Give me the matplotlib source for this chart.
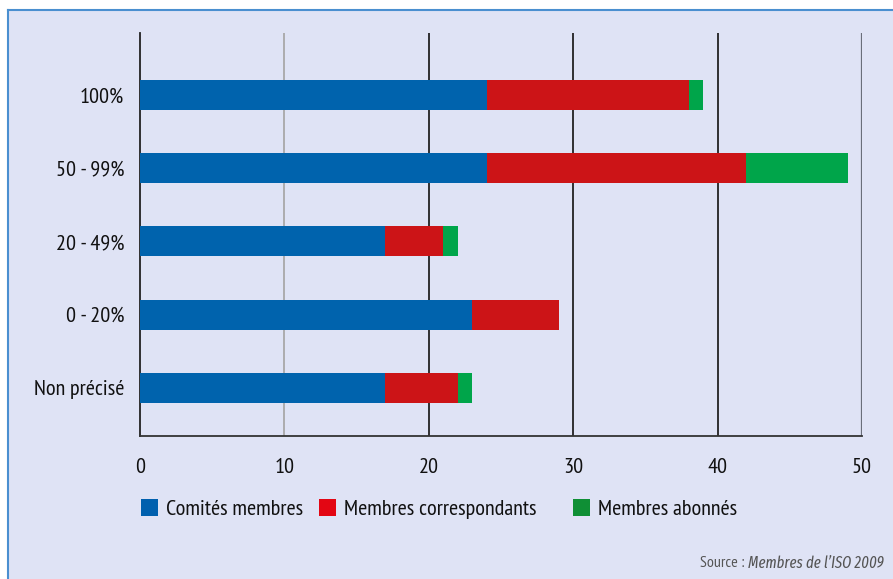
import matplotlib
matplotlib.use("Agg")
import matplotlib.pyplot as plt
from matplotlib.patches import Patch, Rectangle
from matplotlib.lines import Line2D

FONT = ['PT Sans Narrow', 'DejaVu Sans']
plt.rcParams['font.family'] = FONT

categories = ["100%", "50 - 99%", "20 - 49%", "0 - 20%", "Non précisé"]
comites = [24, 24, 17, 23, 17]
correspondants = [14, 18, 4, 6, 5]
abonnes = [1, 7, 1, 0, 1]
series_names = ["Comités membres", "Membres correspondants", "Membres abonnés"]
xticks = [0, 10, 20, 30, 40, 50]

W, H = 893, 579
fig = plt.figure(figsize=(W / 100, H / 100), dpi=100)
fig.patch.set_facecolor("white")

bg = "#dfe3f5"
fig.patches.append(Rectangle((8 / W, 0), 1 - 8 / W, 1 - 10 / H, transform=fig.transFigure,
                             facecolor=bg, edgecolor="none", zorder=-5))
fig.lines.append(Line2D([8 / W, 8 / W], [0, 1 - 10 / H], transform=fig.transFigure,
                        color="#4a8fd0", lw=1.5, zorder=-4))
fig.lines.append(Line2D([8 / W, 1], [1 - 10 / H, 1 - 10 / H], transform=fig.transFigure,
                        color="#4a8fd0", lw=1.5, zorder=-4))

left, right = 140 / W, 862 / W
top, bottom = 1 - 33 / H, 1 - 436 / H
ax = fig.add_axes([left, bottom, right - left, top - bottom])
ax.patch.set_alpha(0)

ypos = list(range(len(categories)))
h = 0.41
c_blue, c_red, c_green = "#0063ad", "#cc1417", "#00a54a"
ax.barh(ypos, comites, height=h, color=c_blue, zorder=3)
ax.barh(ypos, correspondants, left=comites, height=h, color=c_red, zorder=3)
left3 = [a + b for a, b in zip(comites, correspondants)]
ax.barh(ypos, abonnes, left=left3, height=h, color=c_green, zorder=3)

ax.set_xlim(0, 50)
ax.set_ylim(4.66, -0.85)
ax.set_yticks(ypos)
ax.set_yticklabels(categories)
ax.set_xticks(xticks)
ax.set_xticklabels([str(t) for t in xticks])

grid_colors = {10: "#a8a8a8", 20: "#222222", 30: "#222222", 40: "#222222", 50: "#6a6e7a"}
for x, c in grid_colors.items():
    ax.axvline(x, color=c, lw=1.6 if x == 50 else 1.3, zorder=2)

for s in ["top", "right"]:
    ax.spines[s].set_visible(False)
ax.spines["left"].set_color("#222222")
ax.spines["bottom"].set_color("#333333")
ax.spines["left"].set_linewidth(1.3)
ax.spines["bottom"].set_linewidth(1.3)
ax.tick_params(axis="both", length=0, labelsize=16, colors="#111111")
ax.tick_params(axis="y", pad=11.5)
ax.tick_params(axis="x", pad=16)

legend_colors = ["#0060ae", "#e30613", "#0f8f35"]
legend_x = [141, 319, 573]
for name, col, lx in zip(series_names, legend_colors, legend_x):
    leg = fig.legend([Patch(facecolor=col)], [name], loc="center left",
                     bbox_to_anchor=(lx / W, 1 - 509 / H), frameon=False, fontsize=16,
                     handlelength=0.77, handleheight=0.77, handletextpad=0.36,
                     borderaxespad=0, borderpad=0)
    for t in leg.get_texts():
        t.set_color("#111111")

src_it = fig.text(884 / W, 1 - 563 / H, "Membres de l\u2019ISO 2009", ha="right", va="center",
                  fontsize=11.5, color="#555555", style="italic",
                  family=['Fira Sans Extra Condensed', 'PT Sans Narrow', 'DejaVu Sans'])
ax.annotate("Source : ", xy=(0, 0.5), xycoords=src_it, ha="right", va="center",
            fontsize=11.5, color="#555555", annotation_clip=False)

fig.savefig("out.png", dpi=100, facecolor=fig.get_facecolor())
